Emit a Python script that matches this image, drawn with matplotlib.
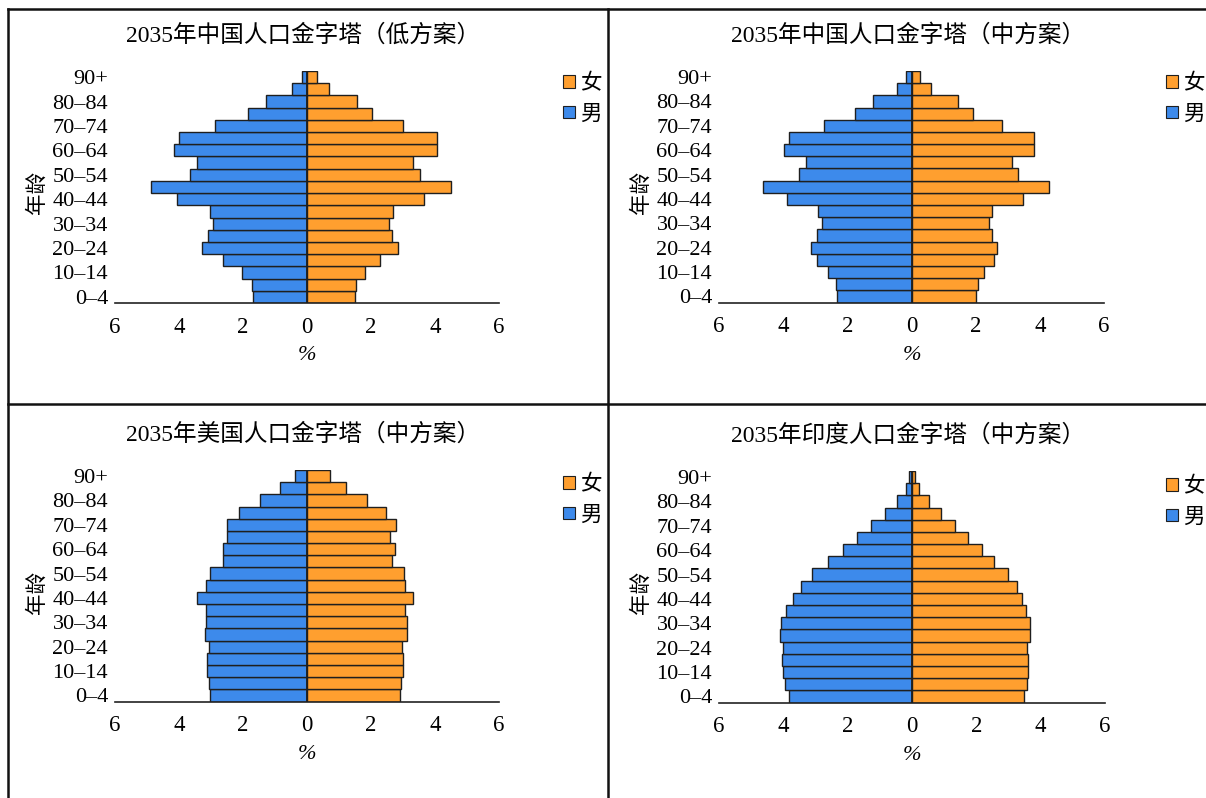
import matplotlib
matplotlib.use("Agg")
import matplotlib.pyplot as plt
from matplotlib.patches import Patch
from matplotlib.lines import Line2D
import numpy as np

plt.rcParams['font.family'] = ['Liberation Serif', 'Noto Sans CJK SC', 'DejaVu Sans']

ages = ['0–4', '5–9', '10–14', '15–19', '20–24', '25–29', '30–34', '35–39',
        '40–44', '45–49', '50–54', '55–59', '60–64', '65–69', '70–74',
        '75–79', '80–84', '85–89', '90+']

titles = ['2035年中国人口金字塔（低方案）', '2035年中国人口金字塔（中方案）',
          '2035年美国人口金字塔（中方案）', '2035年印度人口金字塔（中方案）']

# values listed from 0–4 up to 90+ (percent)
cn_low_male = [1.70, 1.72, 2.04, 2.61, 3.27, 3.10, 2.95, 3.04, 4.05, 4.86,
               3.67, 3.45, 4.16, 4.00, 2.88, 1.84, 1.27, 0.47, 0.17]
cn_low_female = [1.51, 1.54, 1.81, 2.29, 2.83, 2.67, 2.56, 2.69, 3.66, 4.51,
                 3.52, 3.32, 4.07, 4.07, 3.00, 2.04, 1.56, 0.69, 0.31]

cn_mid_male = [2.32, 2.36, 2.59, 2.96, 3.14, 2.96, 2.80, 2.91, 3.88, 4.64,
               3.51, 3.30, 3.96, 3.83, 2.73, 1.76, 1.20, 0.46, 0.18]
cn_mid_female = [2.02, 2.06, 2.26, 2.56, 2.68, 2.50, 2.41, 2.52, 3.46, 4.29,
                 3.31, 3.13, 3.82, 3.82, 2.83, 1.93, 1.45, 0.62, 0.25]

us_male = [3.04, 3.06, 3.12, 3.12, 3.06, 3.20, 3.17, 3.16, 3.44, 3.17,
           3.03, 2.64, 2.64, 2.50, 2.51, 2.12, 1.46, 0.83, 0.37]
us_female = [2.90, 2.94, 3.01, 3.01, 2.97, 3.14, 3.14, 3.06, 3.31, 3.06,
             3.03, 2.67, 2.74, 2.59, 2.78, 2.47, 1.86, 1.22, 0.71]

in_male = [3.83, 3.95, 4.01, 4.04, 4.02, 4.11, 4.08, 3.91, 3.70, 3.45,
           3.10, 2.60, 2.16, 1.70, 1.28, 0.83, 0.48, 0.18, 0.08]
in_female = [3.49, 3.57, 3.60, 3.62, 3.58, 3.66, 3.66, 3.53, 3.42, 3.26,
             2.98, 2.56, 2.17, 1.75, 1.34, 0.91, 0.54, 0.23, 0.09]

xticks = [-6, -4, -2, 0, 2, 4, 6]
xticklabels = ['6', '4', '2', '0', '2', '4', '6']

male_sets = [cn_low_male, cn_mid_male, us_male, in_male]
female_sets = [cn_low_female, cn_mid_female, us_female, in_female]

BLUE = '#3D8AEB'
ORANGE = '#FF9F2F'
EDGE = '#1f1f1f'

W, H = 1206, 798
fig = plt.figure(figsize=(W / 100, H / 100), dpi=100)
fig.patch.set_facecolor('white')

# axes boxes in pixels: (left, top, right, bottom)
boxes = [(115, 71, 499, 303), (719, 71, 1104, 302.5),
         (115, 470, 499, 701.5), (719, 471, 1105, 702.5)]
legend_pos = [(563, 72), (1166, 72), (563, 473), (1166, 475)]
ylabel_pos = [(37, 193), (641, 193), (37, 592), (641, 592)]

y = np.arange(len(ages))

for i in range(4):
    l, t, r, b = boxes[i]
    ax = fig.add_axes([l / W, 1 - b / H, (r - l) / W, (b - t) / H])
    m = np.array(male_sets[i])
    f = np.array(female_sets[i])
    ax.barh(y, -m, height=1.0, color=BLUE, edgecolor=EDGE, linewidth=1.0)
    ax.barh(y, f, height=1.0, color=ORANGE, edgecolor=EDGE, linewidth=1.0)
    ax.axvline(0, ymin=0, ymax=1, color=EDGE, linewidth=1.3, zorder=3)
    ax.set_xlim(-6, 6)
    ax.set_ylim(-0.5, len(ages) - 0.5)
    ax.set_xticks(xticks)
    ax.set_xticklabels(xticklabels, fontsize=16.5)
    ax.set_yticks(y[::2])
    ax.set_yticklabels(ages[::2], fontsize=16)
    ax.tick_params(axis='both', length=0)
    ax.tick_params(axis='x', pad=10)
    ax.tick_params(axis='y', pad=5)
    for s in ['top', 'right', 'left']:
        ax.spines[s].set_visible(False)
    ax.spines['bottom'].set_linewidth(1.2)
    ax.spines['bottom'].set_color('#222222')
    ax.set_facecolor('none')
    ax.set_xlabel('%', fontsize=16, style='italic', labelpad=6)
    ax.set_title(titles[i], fontsize=17, pad=21, x=0.49,
                 family=['Liberation Serif', 'Noto Sans CJK SC'])
    yl = ylabel_pos[i]
    fig.text(yl[0] / W, 1 - yl[1] / H, '年龄', rotation=90, ha='center',
             va='center', fontsize=15.5, family=['Noto Sans CJK SC'])
    handles = [Patch(facecolor=ORANGE, edgecolor=EDGE, linewidth=0.8, label='女'),
               Patch(facecolor=BLUE, edgecolor=EDGE, linewidth=0.8, label='男')]
    lp = legend_pos[i]
    ax.legend(handles=handles, loc='upper left',
              bbox_to_anchor=(lp[0] / W, 1 - lp[1] / H),
              bbox_transform=fig.transFigure, frameon=False,
              handlelength=0.55, handleheight=0.55, handletextpad=0.25,
              labelspacing=0.4, borderpad=0, borderaxespad=0,
              prop={'family': ['Noto Sans CJK SC'], 'size': 15.5})

# panel frame lines
lw = 1.8
for (x0, y0, x1, y1) in [(7.5, 9, W, 9), (7.5, 9, 7.5, H), (607.5, 9, 607.5, H),
                          (7.5, 404.5, W, 404.5)]:
    fig.add_artist(Line2D([x0 / W, x1 / W], [1 - y0 / H, 1 - y1 / H],
                          transform=fig.transFigure, color='#111111', linewidth=lw))

fig.savefig('out.png', dpi=100, facecolor='white')
